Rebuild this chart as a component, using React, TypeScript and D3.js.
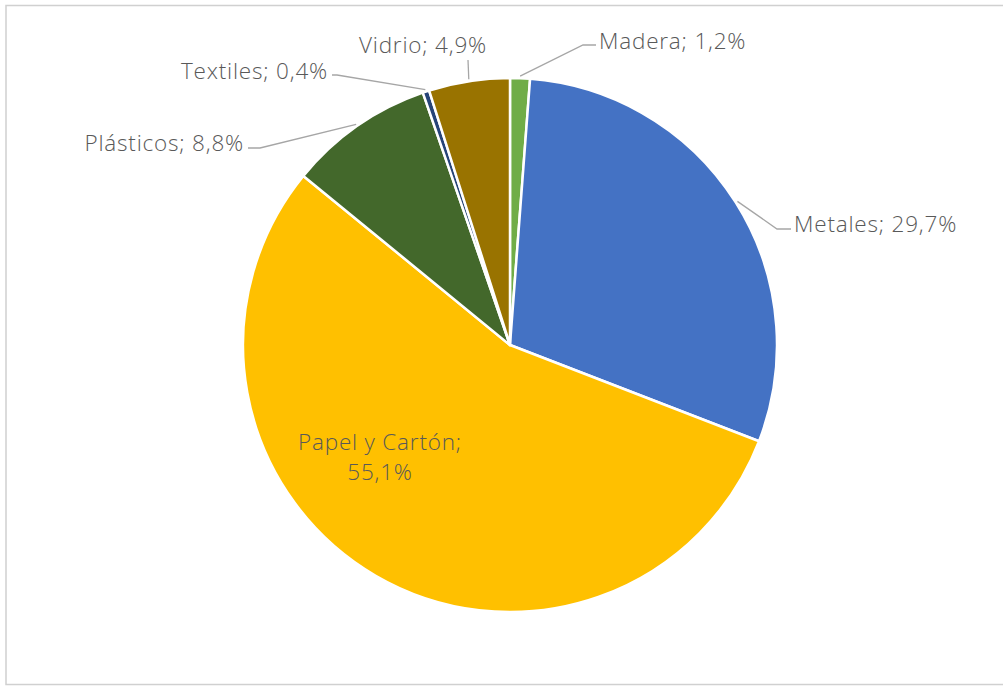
import { useRef, useEffect } from "react";
import * as d3 from "d3";

const categories = ["Madera", "Metales", "Papel y Cartón", "Plásticos", "Textiles", "Vidrio"];
const values = [1.2, 29.7, 55.1, 8.8, 0.4, 4.9];
const valueLabels = ["1,2%", "29,7%", "55,1%", "8,8%", "0,4%", "4,9%"];
const colors = ["#70AD47", "#4472C4", "#FFC000", "#43682B", "#264478", "#997300"];

// label layout: text position, anchor, and leader elbow (null = inside label)
const labelLayout = [
  { x: 599, y: 49, anchor: "start", elbow: [583, 45], lineStart: [596, 45] },
  { x: 794, y: 232, anchor: "start", elbow: [777, 229], lineStart: [791, 229] },
  { x: 380, y: 450, anchor: "middle", elbow: null, lineStart: null },
  { x: 244, y: 151, anchor: "end", elbow: [260, 148], lineStart: [248, 148] },
  { x: 328, y: 79, anchor: "end", elbow: [337, 75], lineStart: [332, 75] },
  { x: 423, y: 53, anchor: "middle", elbow: [468, 60], lineStart: [468, 60] },
];

const W = 1003;
const H = 686;
const cx = 510;
const cy = 345;
const radius = 267;

const PieChart = () => {
  const ref = useRef<SVGSVGElement>(null);

  useEffect(() => {
    const svg = d3.select(ref.current);
    svg.selectAll("*").remove();

    svg
      .append("rect")
      .attr("x", 6)
      .attr("y", 5.5)
      .attr("width", W + 10)
      .attr("height", 679)
      .attr("fill", "#fff")
      .attr("stroke", "#D0D0D0")
      .attr("stroke-width", 1.5);

    const data = categories.map((c, i) => ({ name: c, value: values[i], i }));
    const pie = d3
      .pie<{ name: string; value: number; i: number }>()
      .sort(null)
      .value(d => d.value);
    const arcs = pie(data);
    const arc = d3
      .arc<d3.PieArcDatum<{ name: string; value: number; i: number }>>()
      .innerRadius(0)
      .outerRadius(radius);

    const g = svg.append("g").attr("transform", `translate(${cx},${cy})`);
    g.selectAll("path")
      .data(arcs)
      .enter()
      .append("path")
      .attr("d", arc)
      .attr("fill", d => colors[d.data.i])
      .attr("stroke", "#fff")
      .attr("stroke-width", 2.5)
      .attr("stroke-linejoin", "round");

    // leader lines
    arcs.forEach(d => {
      const l = labelLayout[d.data.i];
      if (!l.elbow) return;
      const mid = (d.startAngle + d.endAngle) / 2;
      const px = cx + (radius + 2) * Math.sin(mid);
      const py = cy - (radius + 2) * Math.cos(mid);
      const pts: [number, number][] = [
        [l.lineStart![0], l.lineStart![1]],
        [l.elbow[0], l.elbow[1]],
        [px, py],
      ];
      svg
        .append("path")
        .attr("d", d3.line()(pts))
        .attr("fill", "none")
        .attr("stroke", "#A6A6A6")
        .attr("stroke-width", 1.3);
    });

    const font = "'Open Sans', Lato, sans-serif";
    arcs.forEach(d => {
      const l = labelLayout[d.data.i];
      const t = svg
        .append("text")
        .attr("x", l.x)
        .attr("y", l.y)
        .attr("text-anchor", l.anchor)
        .attr("font-family", font)
        .attr("font-weight", 300)
        .attr("font-size", 22.5)
        .attr("letter-spacing", 0.8)
        .attr("fill", "#595959");
      if (l.elbow) {
        t.text(`${d.data.name}; ${valueLabels[d.data.i]}`);
      } else {
        t.append("tspan").attr("x", l.x).text(`${d.data.name};`);
        t.append("tspan").attr("x", l.x).attr("dy", 30).text(valueLabels[d.data.i]);
      }
    });
  }, []);

  return (
    <svg
      ref={ref}
      width={W}
      height={H}
      style={{ position: "absolute", left: 0, top: 0, display: "block", background: "#fff" }}
    />
  );
};

export default function App() {
  return <PieChart />;
}
